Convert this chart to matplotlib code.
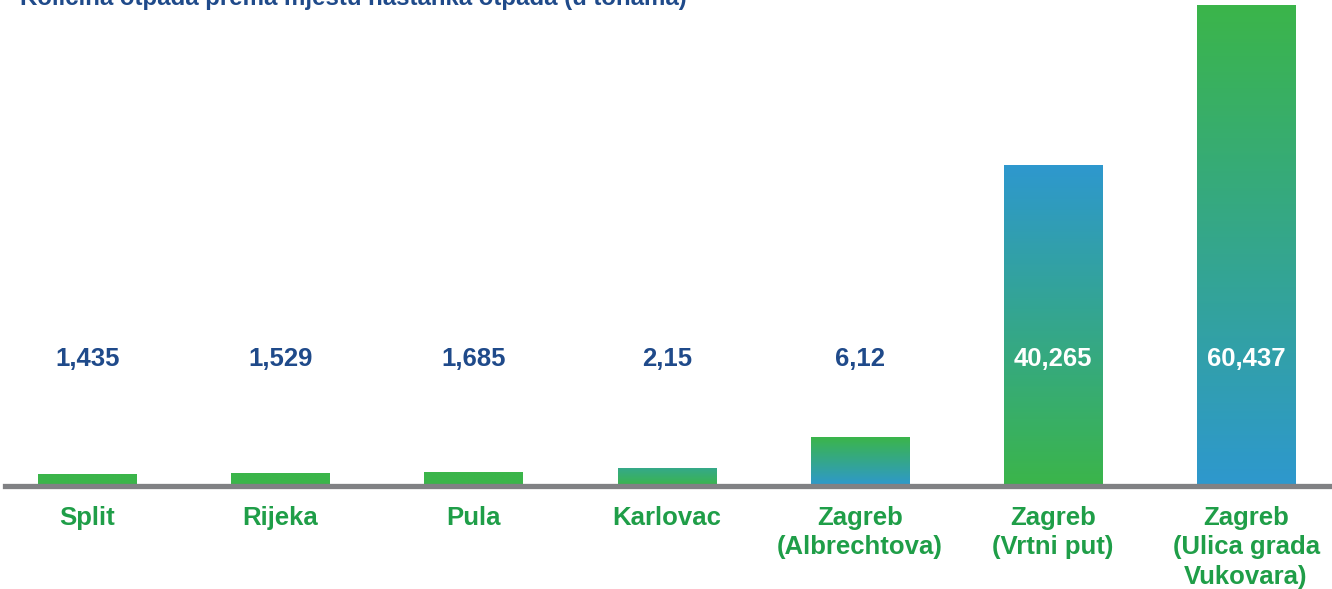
import numpy as np
import matplotlib.pyplot as plt
from matplotlib.colors import LinearSegmentedColormap

plt.rcParams['font.family'] = ['Liberation Sans', 'DejaVu Sans']

# Količina otpada po lokaciji (tone)
lokacije = ['Split', 'Rijeka', 'Pula', 'Karlovac', 'Zagreb\n(Albrechtova)',
            'Zagreb\n(Vrtni put)', 'Zagreb\n(Ulica grada\nVukovara)']
kolicine = [1.435, 1.529, 1.685, 2.15, 6.12, 40.265, 60.437]
oznake = ['1,435', '1,529', '1,685', '2,15', '6,12', '40,265', '60,437']
# boja pri vrhu i pri dnu stupca
boja_vrh = ['#3bb54a', '#3bb54a', '#3bb54a', '#35a98a', '#3bb54a', '#2e98ce', '#3bb54a']
boja_dno = ['#3bb54a', '#3bb54a', '#3bb54a', '#3bb54a', '#2e98ce', '#3bb54a', '#2e98ce']
boja_teksta = ['#1f4a8a'] * 5 + ['white', 'white']

ZELENA = '#1f9e48'
PLAVA = '#1f4a8a'

fig = plt.figure(figsize=(13.32, 5.89), dpi=100)
ax = fig.add_axes([5 / 1332, (589 - 486) / 589, 1327 / 1332, 481 / 589])

x = np.arange(len(lokacije))
sirina = 0.51
ax.set_xlim(-0.427, 6.445)
ax.set_ylim(0, 60.437)

for i, (v, c1, c2) in enumerate(zip(kolicine, boja_vrh, boja_dno)):
    cmap = LinearSegmentedColormap.from_list('g', [c2, c1])
    grad = np.linspace(0, 1, 256).reshape(-1, 1)
    ax.imshow(grad, cmap=cmap, origin='lower', aspect='auto',
              extent=(x[i] - sirina / 2, x[i] + sirina / 2, 0, v), zorder=2)
    ax.text(x[i], 16.0, oznake[i], ha='center', va='center', fontsize=18.5,
            fontweight='bold', color=boja_teksta[i], zorder=3)
    ax.text(x[i], -2.5, lokacije[i], ha='center', va='top', fontsize=18.5,
            fontweight='bold', color=ZELENA, linespacing=1.29, clip_on=False)

ax.axhline(0, color='#808184', lw=3.8, zorder=4, clip_on=False)

for s in ax.spines.values():
    s.set_visible(False)
ax.set_xticks([])
ax.set_yticks([])

fig.text(20 / 1332, 1 + 1 / 589, 'Količina otpada prema mjestu nastanka otpada (u tonama)',
         ha='left', va='center', fontsize=17.3, fontweight='bold', color=PLAVA)

fig.savefig('out.png', dpi=100)
